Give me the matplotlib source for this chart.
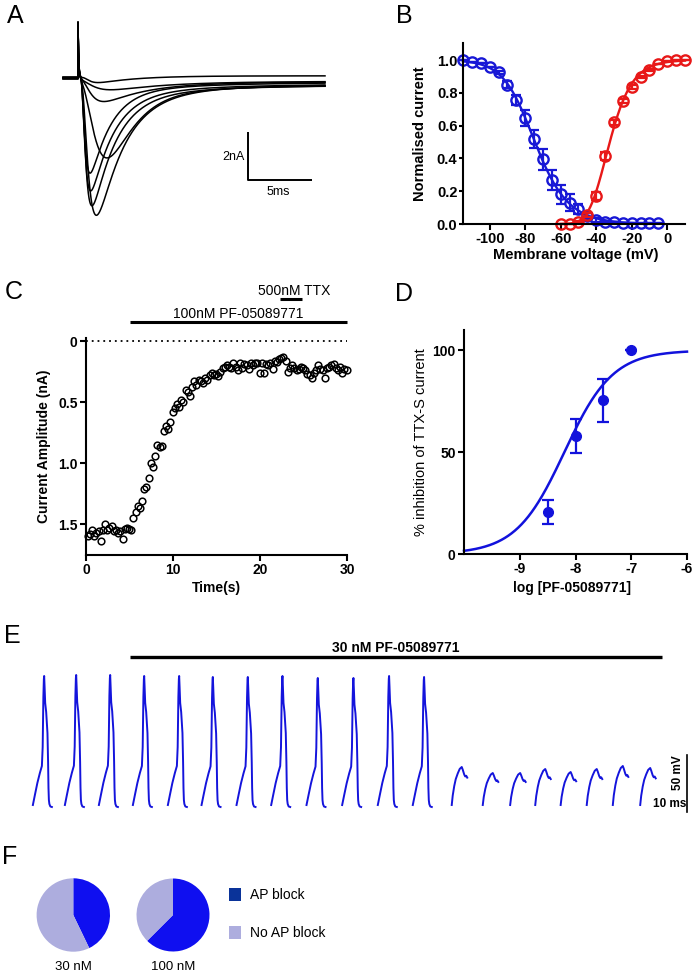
import numpy as np
import matplotlib
matplotlib.use('Agg')
import matplotlib.pyplot as plt
from matplotlib.patches import Rectangle

W, H = 695, 975
plt.rcParams['font.family'] = ['Liberation Sans', 'DejaVu Sans']
plt.rcParams['axes.unicode_minus'] = False

# ---------------- DATA ----------------
# A: family of Na+ current traces
a_peak_nA = [-5.75, -5.30, -4.70, -4.00, -3.30, -1.00, -0.45, -0.20]
a_tpeak_ms = [1.40, 1.05, 0.95, 0.90, 2.25, 2.00, 2.60, 1.60]
a_tdecay_ms = [2.05, 1.8, 1.7, 1.55, 1.9, 3.0, 4.0, 3.0]
a_slow_nA = [-0.70, -0.65, -0.60, -0.50, -0.55, -0.20, -0.10, 0.0]
a_slow_tau_ms = 7.0
a_steady_nA = [-0.30, -0.28, -0.25, -0.22, -0.27, -0.18, -0.10, 0.08]
a_hold_nA = [0.03, -0.02, 0.0, 0.04, -0.03, 0.02, -0.04, 0.01]
a_cap_nA = 2.3
a_cap_tau_ms = 0.05
a_latency_ms = 0.2
a_prestep_ms = -1.15
a_end_ms = 19.0

# B: steady-state inactivation (blue) and activation (red)
b_v_inact = [-115, -110, -105, -100, -95, -90, -85, -80, -75, -70, -65, -60,
             -55, -50, -45, -40, -35, -30, -25, -20, -15, -10, -5]
b_inact = [1.00, 0.99, 0.98, 0.955, 0.925, 0.85, 0.757, 0.645, 0.52, 0.395, 0.27, 0.18,
           0.13, 0.09, 0.05, 0.025, 0.015, 0.01, 0.008, 0.007, 0.006, 0.006, 0.006]
b_inact_err = [0, 0, 0, 0, 0.01, 0.02, 0.03, 0.05, 0.055, 0.065, 0.06, 0.06,
               0.05, 0.03, 0.02, 0.01, 0, 0, 0, 0, 0, 0, 0]
b_v_act = [-60, -55, -50, -45, -40, -35, -30, -25, -20, -15, -10, -5, 0, 5, 10]
b_act = [0.0, 0.002, 0.015, 0.055, 0.17, 0.415, 0.62, 0.75, 0.835, 0.895, 0.94,
         0.975, 0.995, 1.0, 1.0]
b_act_err = [0, 0, 0.005, 0.01, 0.025, 0.025, 0.015, 0.01, 0.01, 0.005, 0.005,
             0, 0, 0, 0]

# C: time course of current amplitude
c_time_s = [0.20, 0.45, 0.70, 0.95, 1.20, 1.45, 1.70, 1.95, 2.20, 2.45, 2.70, 2.95,
            3.20, 3.45, 3.70, 3.95, 4.20, 4.45, 4.70, 4.95, 5.20, 5.45, 5.70, 5.95,
            6.20, 6.45, 6.70, 6.95, 7.20, 7.45, 7.70, 7.95, 8.20, 8.45, 8.70, 8.95,
            9.20, 9.45, 9.70, 9.95, 10.20, 10.45, 10.70, 10.95, 11.20, 11.45, 11.70, 11.95,
            12.20, 12.45, 12.70, 12.95, 13.20, 13.45, 13.70, 13.95, 14.20, 14.45, 14.70, 14.95,
            15.20, 15.45, 15.70, 15.95, 16.20, 16.45, 16.70, 16.95, 17.20, 17.45, 17.70, 17.95,
            18.20, 18.45, 18.70, 18.95, 19.20, 19.45, 19.70, 19.95, 20.20, 20.45, 20.70, 20.95,
            21.20, 21.45, 21.70, 21.95, 22.20, 22.45, 22.70, 22.95, 23.20, 23.45, 23.70, 23.95,
            24.20, 24.45, 24.70, 24.95, 25.20, 25.45, 25.70, 25.95, 26.20, 26.45, 26.70, 26.95,
            27.20, 27.45, 27.70, 27.95, 28.20, 28.45, 28.70, 28.95, 29.20, 29.45, 29.70, 29.95]
c_amp_nA = [1.60, 1.58, 1.55, 1.60, 1.57, 1.56, 1.64, 1.55, 1.50, 1.55, 1.53, 1.52,
            1.56, 1.55, 1.57, 1.56, 1.62, 1.54, 1.53, 1.54, 1.55, 1.45, 1.40, 1.35,
            1.37, 1.31, 1.21, 1.20, 1.12, 1.00, 1.03, 0.94, 0.85, 0.87, 0.86, 0.74,
            0.70, 0.72, 0.66, 0.58, 0.55, 0.52, 0.54, 0.48, 0.50, 0.40, 0.42, 0.45,
            0.38, 0.33, 0.36, 0.32, 0.33, 0.34, 0.30, 0.32, 0.28, 0.26, 0.28, 0.27,
            0.29, 0.25, 0.22, 0.21, 0.20, 0.21, 0.22, 0.18, 0.21, 0.24, 0.18, 0.22,
            0.19, 0.20, 0.23, 0.18, 0.20, 0.18, 0.18, 0.26, 0.18, 0.26, 0.19, 0.20,
            0.18, 0.23, 0.16, 0.17, 0.15, 0.14, 0.13, 0.16, 0.25, 0.22, 0.20, 0.22,
            0.24, 0.23, 0.21, 0.22, 0.24, 0.27, 0.28, 0.30, 0.26, 0.24, 0.20, 0.23,
            0.24, 0.30, 0.22, 0.21, 0.20, 0.19, 0.22, 0.24, 0.21, 0.26, 0.23, 0.24]
c_pf_on_s, c_pf_off_s = 5.0, 30.0
c_ttx_on_s, c_ttx_off_s = 22.3, 24.8

# D: concentration-response
d_logc = [-8.5, -8.0, -7.5, -7.0]
d_inhib = [20.5, 58.0, 75.5, 100.0]
d_err = [6.0, 8.5, 10.5, 0.0]
d_logIC50 = -8.2
d_hill = 1.0

# E: action potentials (mV) in consecutive sweeps
e_rest_mV = -65.0
e_ap_onset_ms = [3.9, 13.6, 23.9, 34.2, 44.8, 55.0, 65.6, 76.1, 86.8, 97.6, 108.4, 119.0]
e_ap_peak_mV = [66, 67, 67, 66, 66, 65, 65, 66, 64, 64, 66, 65]
e_small_onset_ms = [130.8, 140.2, 148.5, 156.1, 163.8, 171.7, 179.6, 187.9]
e_small_peak_mV = [-25, -31, -31, -27, -30, -27, -24, -26]
e_ap_tmpl_ms = [0, 0.61, 1.36, 2.12, 2.73, 2.97, 3.18, 3.33, 3.42, 3.55, 3.73, 4.03,
                4.42, 4.61, 4.73, 4.85, 5.0, 5.3, 5.76]
e_ap_tmpl_rel = [2, 12, 24, 34, 41, 60, 110, 128, 131, 120, 104, 95, 74, 45, 19, 7, 3, 0.5, 0]
e_small_tmpl_ms = [0, 0.3, 0.76, 1.21, 1.82, 2.42, 3.03, 3.33, 3.79, 4.09, 4.39, 4.7]
e_small_tmpl_frac = [0.0, 0.25, 0.5, 0.68, 0.83, 0.95, 1.0, 0.93, 0.8, 0.75, 0.77, 0.72]
e_drug_on_ms, e_drug_off_ms = 33.3, 194.5

# F: proportion of cells with AP block
f_conc = ['30 nM', '100 nM']
f_block = [3, 5]
f_noblock = [4, 3]
f_legend = ['AP block', 'No AP block']

# ---------------- STYLE ----------------
BLUE_B = '#1818d6'
RED_B = '#e81818'
BLUE_D = '#1212dc'
BLUE_E = '#1414dc'
C_BLOCK = '#0f0ff0'
C_BLOCK_LEG = '#0a3399'
C_NOBLOCK = '#adadde'

fig = plt.figure(figsize=(W / 100, H / 100), dpi=100)


def box(x0, y0, x1, y1):
    return [x0 / W, 1 - y1 / H, (x1 - x0) / W, (y1 - y0) / H]


ovl = fig.add_axes([0, 0, 1, 1])
ovl.set_xlim(0, W)
ovl.set_ylim(H, 0)
ovl.axis('off')

for lab, (x, y) in zip('ABCDEF', [(15, 16), (404, 16), (14, 292), (404, 294), (12, 636), (10, 857)]):
    ovl.text(x, y, lab, fontsize=18, ha='center', va='center')


def style_axes(ax, fs=10):
    for s in ('top', 'right'):
        ax.spines[s].set_visible(False)
    for s in ('left', 'bottom'):
        ax.spines[s].set_linewidth(1.5)
    ax.tick_params(direction='out', length=4, width=1.5, labelsize=fs, pad=2)
    for lbl in ax.get_xticklabels() + ax.get_yticklabels():
        lbl.set_fontweight('bold')


# ---------------- A ----------------
axA = fig.add_axes(box(50, 15, 330, 230))
axA.set_xlim(-2.154, 19.385)
axA.set_ylim(-6.333, 2.625)
axA.axis('off')
t_post = np.linspace(0, a_end_ms, 4000)
tr_grid = np.linspace(0.02, 3.0, 6000)
for pk, tp, td, sl, ss, hold in zip(a_peak_nA, a_tpeak_ms, a_tdecay_ms, a_slow_nA,
                                    a_steady_nA, a_hold_nA):
    tp_model = tr_grid * np.log(1 + 3 * td / tr_grid)
    tr = tr_grid[np.argmin(np.abs(tp_model - (tp - a_latency_ms)))]
    tt = np.clip(t_post - a_latency_ms, 0, None)
    shape = (1 - np.exp(-tt / tr)) ** 3 * np.exp(-tt / td)
    shape = shape / shape.max()
    other = ss * (1 - np.exp(-tt / 0.5)) + sl * (1 - np.exp(-tt / 0.5)) * np.exp(-tt / a_slow_tau_ms)
    ipk = np.argmax(shape)
    cur = hold + a_cap_nA * np.exp(-t_post / a_cap_tau_ms) + (pk - other[ipk]) * shape + other
    tt_all = np.concatenate([[a_prestep_ms, 0.0], t_post])
    cur_all = np.concatenate([[hold, hold], cur])
    axA.plot(tt_all, cur_all, color='black', lw=1.1)
axA.plot([13.05, 13.05, 18.0], [-2.25, -4.25, -4.25], color='black', lw=1.4, solid_capstyle='butt')
axA.text(12.85, -3.28, '2nA', ha='right', va='center', fontsize=9)
axA.text(15.4, -4.74, '5ms', ha='center', va='center', fontsize=9)


# ---------------- B ----------------
def fit_richards(v, y, rising):
    v = np.asarray(v, float)[None, None, :]
    y = np.asarray(y, float)[None, None, :]
    vh = np.arange(-100, -10, 0.25)[:, None, None]
    k = np.arange(2, 16, 0.1)[None, :, None]
    best = (np.inf, None)
    with np.errstate(over='ignore'):
        for s in np.arange(0.5, 4.01, 0.1):
            z = (vh - v) / k if rising else (v - vh) / k
            pred = (1 + np.exp(z)) ** (-s)
            sse = ((pred - y) ** 2).sum(axis=2)
            i, j = np.unravel_index(np.argmin(sse), sse.shape)
            if sse[i, j] < best[0]:
                best = (sse[i, j], (vh[i, 0, 0], k[0, j, 0], s))
    return best[1]


def richards(v, p, rising):
    vh, k, s = p
    z = (vh - v) / k if rising else (v - vh) / k
    return (1 + np.exp(z)) ** (-s)


axB = fig.add_axes(box(463, 43, 685, 224))
axB.set_xlim(-115, 10)
axB.set_ylim(0, 1.104)
p_in = fit_richards(b_v_inact, b_inact, False)
p_ac = fit_richards(b_v_act, b_act, True)
vv = np.linspace(-115, -5, 400)
axB.plot(vv, richards(vv, p_in, False), color=BLUE_B, lw=1.7, clip_on=False)
vv2 = np.linspace(-60, 10, 400)
axB.plot(vv2, richards(vv2, p_ac, True), color=RED_B, lw=1.7, clip_on=False)
for v, y, e, c in [(b_v_inact, b_inact, b_inact_err, BLUE_B), (b_v_act, b_act, b_act_err, RED_B)]:
    axB.errorbar(v, y, yerr=e, fmt='none', ecolor=c, elinewidth=1.6, capsize=3.6,
                 capthick=1.6, clip_on=False)
    axB.plot(v, y, 'o', mfc='none', mec=c, ms=7.4, mew=1.7, clip_on=False)
axB.set_yticks([0, 0.2, 0.4, 0.6, 0.8, 1.0])
axB.set_yticklabels(['0.0', '0.2', '0.4', '0.6', '0.8', '1.0'])
axB.set_xticks([-100, -80, -60, -40, -20, 0])
style_axes(axB, 10.5)
axB.tick_params(axis='y', length=3, pad=1)
axB.set_ylabel('Normalised current', fontsize=10.5, fontweight='bold')
axB.yaxis.set_label_coords(-0.16, 0.5)
axB.set_xlabel('Membrane voltage (mV)', fontsize=10.5, fontweight='bold', va='top')
axB.xaxis.set_label_coords(0.508, -0.13)

# ---------------- C ----------------
axC = fig.add_axes(box(86, 338, 347, 555))
axC.set_xlim(0, 30)
axC.set_ylim(1.754, -0.025)
axC.plot([0, 30], [0, 0], color='black', lw=1.3, ls=(0, (1, 2.2)))
axC.plot(c_time_s, c_amp_nA, 'o', mfc='none', mec='black', ms=4.8, mew=1.1, clip_on=False)
axC.plot([c_pf_on_s, c_pf_off_s], [-0.158, -0.158], color='black', lw=2.2, clip_on=False,
         solid_capstyle='butt')
axC.text((c_pf_on_s + c_pf_off_s) / 2, -0.222, '100nM PF-05089771', ha='center', va='center',
         fontsize=10)
axC.plot([c_ttx_on_s, c_ttx_off_s], [-0.344, -0.344], color='black', lw=2.2, clip_on=False,
         solid_capstyle='butt')
axC.text(23.9, -0.41, '500nM TTX', ha='center', va='center', fontsize=10)
axC.set_xticks([0, 10, 20, 30])
axC.set_yticks([0, 0.5, 1.0, 1.5])
axC.set_yticklabels(['0', '0.5', '1.0', '1.5'])
style_axes(axC, 10)
axC.set_ylabel('Current Amplitude (nA)', fontsize=10, fontweight='bold')
axC.yaxis.set_label_coords(-0.135, 0.5)
axC.set_xlabel('Time(s)', fontsize=10, fontweight='bold', va='top')
axC.xaxis.set_label_coords(0.5, -0.12)

# ---------------- D ----------------
axD = fig.add_axes(box(464, 330, 687, 554))
axD.set_xlim(-10, -6)
axD.set_ylim(0, 110)
xs = np.linspace(-10, -6, 400)
axD.plot(xs, 100 / (1 + 10 ** ((d_logIC50 - xs) * d_hill)), color=BLUE_D, lw=1.8, clip_on=False)
axD.errorbar(d_logc, d_inhib, yerr=d_err, fmt='none', ecolor=BLUE_D, elinewidth=1.6,
             capsize=4.2, capthick=1.6, clip_on=False)
axD.plot(d_logc, d_inhib, 'o', color=BLUE_D, ms=7, clip_on=False)
axD.set_xticks([-9, -8, -7, -6])
axD.set_yticks([0, 50, 100])
style_axes(axD, 10)
axD.set_ylabel('% inhibition of TTX-S current', fontsize=10.5)
axD.yaxis.set_label_coords(-0.16, 0.5)
axD.set_xlabel('log [PF-05089771]', fontsize=10, fontweight='bold', va='top')
axD.xaxis.set_label_coords(0.484, -0.12)

# ---------------- E ----------------
axE = fig.add_axes(box(20, 640, 695, 815))
axE.set_xlim(0, 204.5)
axE.set_ylim(-73, 102)
axE.axis('off')
tmpl_t = np.asarray(e_ap_tmpl_ms)
tmpl_v = np.asarray(e_ap_tmpl_rel, float)
for on, pk in zip(e_ap_onset_ms, e_ap_peak_mV):
    axE.plot(on + tmpl_t, e_rest_mV + tmpl_v / tmpl_v.max() * (pk - e_rest_mV),
             color=BLUE_E, lw=1.4, solid_joinstyle='round')
st = np.asarray(e_small_tmpl_ms)
sf = np.asarray(e_small_tmpl_frac)
small_base = e_rest_mV + 2
for on, pk in zip(e_small_onset_ms, e_small_peak_mV):
    axE.plot(on + st, small_base + sf * (pk - small_base), color=BLUE_E, lw=1.4,
             solid_joinstyle='round')
axE.plot([e_drug_on_ms, e_drug_off_ms], [85, 85], color='black', lw=2.4, solid_capstyle='butt')
axE.text((e_drug_on_ms + e_drug_off_ms) / 2, 94, '30 nM PF-05089771', ha='center', va='center',
         fontsize=10, fontweight='bold')
axE.plot([202.1, 202.1], [-13, -70], color='black', lw=1.2)
axE.text(199.5, -31, '50 mV', rotation=90, ha='center', va='center', fontsize=8.5,
         fontweight='bold')
axE.text(196.8, -62, '10 ms', ha='center', va='center', fontsize=8.5, fontweight='bold')

# ---------------- F ----------------
for (cx, r), conc, blk, nob in zip([(73.3, 36.7), (173.0, 36.5)], f_conc, f_block, f_noblock):
    cy = 915.0
    axp = fig.add_axes(box(cx - r, cy - r, cx + r, cy + r))
    axp.pie([blk, nob], colors=[C_BLOCK, C_NOBLOCK], startangle=90, counterclock=False,
            radius=1, wedgeprops=dict(linewidth=0))
    axp.set_xlim(-1, 1)
    axp.set_ylim(-1, 1)
    axp.set_aspect('equal')
    axp.axis('off')
    ovl.text(cx, 967, conc, ha='center', va='center', fontsize=9.5)

for (y0, col, lab) in [(888, C_BLOCK_LEG, f_legend[0]), (926, C_NOBLOCK, f_legend[1])]:
    ovl.add_patch(Rectangle((228.5, y0), 12, 13, color=col, lw=0))
    ovl.text(250, y0 + 7, lab, ha='left', va='center', fontsize=10)

fig.savefig('out.png', dpi=100)
